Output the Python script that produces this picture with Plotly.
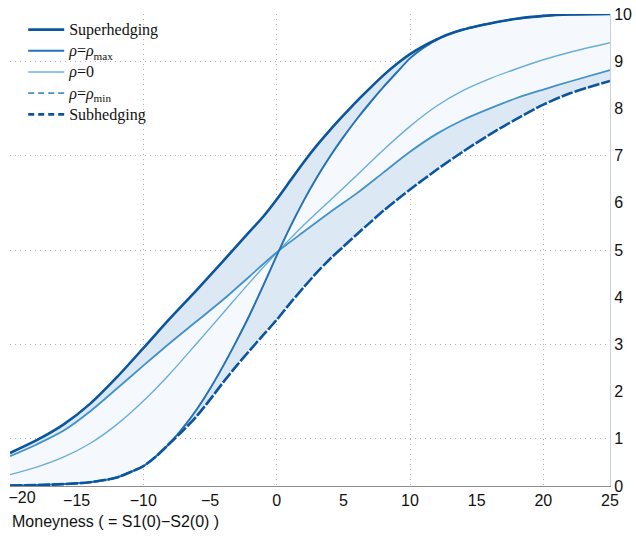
import plotly.graph_objects as go

# ---------------- data ----------------
x_super = [-20, -18, -16, -14, -12, -10, -8, -6, -4, -2, -1, 0, 1, 2, 3, 4, 5, 6, 7, 8, 9, 10,
           11, 12, 13, 14, 15, 16, 18, 20, 22, 25]
y_super = [0.70, 0.97, 1.30, 1.74, 2.30, 2.92, 3.55, 4.15, 4.77, 5.40, 5.71, 6.07, 6.46, 6.85,
           7.21, 7.54, 7.85, 8.15, 8.43, 8.70, 8.94, 9.15, 9.32, 9.46, 9.58, 9.67, 9.74, 9.80,
           9.90, 9.96, 9.99, 10.0]

x_rmax = [-20, -18, -16, -14, -12, -11, -10, -9, -8, -7, -6, -5, -4, -3, -2, -1, 0, 1, 2, 3,
          4, 5, 6, 7, 8, 9, 10, 11, 12, 13, 14, 15, 16, 18, 20, 22, 25]
y_rmax = [0.01, 0.02, 0.04, 0.08, 0.18, 0.29, 0.42, 0.64, 0.91, 1.24, 1.62, 2.06, 2.55, 3.08,
          3.64, 4.25, 4.88, 5.48, 6.03, 6.53, 6.98, 7.39, 7.77, 8.12, 8.45, 8.76, 9.06, 9.28,
          9.46, 9.58, 9.67, 9.74, 9.80, 9.90, 9.96, 9.99, 10.0]

x_r0 = [-20, -18, -16, -14, -12, -10, -8, -6, -4, -2, 0, 2, 4, 6, 8, 10, 12, 14, 16, 18, 20, 22, 25]
y_r0 = [0.24, 0.40, 0.61, 0.90, 1.30, 1.80, 2.38, 3.02, 3.67, 4.32, 4.94, 5.52, 6.05, 6.58,
        7.12, 7.62, 8.05, 8.38, 8.63, 8.84, 9.03, 9.19, 9.39]

x_rmin = [-20, -18, -16, -14, -12, -10, -8, -6, -4, -2, 0, 2, 4, 6, 8, 10, 12, 14, 16, 18, 20, 22, 25]
y_rmin = [0.63, 0.88, 1.17, 1.58, 2.06, 2.55, 3.03, 3.49, 3.95, 4.45, 4.95, 5.38, 5.80, 6.20,
          6.64, 7.08, 7.46, 7.76, 8.00, 8.22, 8.40, 8.57, 8.81]

x_sub = [-20, -18, -16, -14, -12, -11, -10, -9, -8, -7, -6, -5, -4, -3, -2, -1, 0, 1, 2, 3, 4,
         5, 6, 7, 8, 9, 10, 12, 14, 16, 18, 20, 22, 25]
y_sub = [0.01, 0.02, 0.04, 0.08, 0.18, 0.29, 0.42, 0.64, 0.91, 1.18, 1.48, 1.83, 2.20, 2.55,
         2.88, 3.20, 3.52, 3.87, 4.20, 4.52, 4.81, 5.07, 5.33, 5.58, 5.83, 6.06, 6.28, 6.70,
         7.09, 7.45, 7.78, 8.08, 8.32, 8.58]

x_ticks = [-15, -10, -5, 0, 5, 10, 15, 20, 25]
x_ticktext = ["\u221215", "\u221210", "\u22125", "0", "5", "10", "15", "20", "25"]
x_edge_tick = [-20]
x_edge_ticktext = ["\u221220"]
y_ticks = [0, 1, 2, 3, 4, 5, 6, 7, 8, 9, 10]
x_grid = [-20, -10, 0, 10, 20]
y_grid = [1, 3, 5, 7, 9, 10]

# ---------------- styling ----------------
C_SUPER = "#0b559f"
C_RMAX = "#2471b6"
C_R0 = "#6aaed8"
C_RMIN = "#4292c8"
C_SUB = "#0b559f"
FILL_DARK = "#dce9f5"
FILL_LIGHT = "#f5f9fe"
SHAPE = dict(shape="spline", smoothing=0.8)

fig = go.Figure()

# band between hedging bounds
fig.add_trace(go.Scatter(x=x_sub, y=y_sub, mode="lines", line=dict(width=0, **SHAPE),
                         showlegend=False, hoverinfo="skip"))
fig.add_trace(go.Scatter(x=x_super, y=y_super, mode="lines", line=dict(width=0, **SHAPE),
                         fill="tonexty", fillcolor=FILL_DARK, showlegend=False, hoverinfo="skip"))
# band between correlation extremes
fig.add_trace(go.Scatter(x=x_rmin, y=y_rmin, mode="lines", line=dict(width=0, **SHAPE),
                         showlegend=False, hoverinfo="skip"))
fig.add_trace(go.Scatter(x=x_rmax, y=y_rmax, mode="lines", line=dict(width=0, **SHAPE),
                         fill="tonexty", fillcolor=FILL_LIGHT, showlegend=False, hoverinfo="skip"))

# visible lines (drawn in the plot)
fig.add_trace(go.Scatter(x=x_r0, y=y_r0, mode="lines", showlegend=False, hoverinfo="skip",
                         line=dict(color=C_R0, width=1.4, **SHAPE)))
fig.add_trace(go.Scatter(x=x_rmin, y=y_rmin, mode="lines", showlegend=False, hoverinfo="skip",
                         line=dict(color=C_RMIN, width=1.8, **SHAPE)))
fig.add_trace(go.Scatter(x=x_rmax, y=y_rmax, mode="lines", showlegend=False, hoverinfo="skip",
                         line=dict(color=C_RMAX, width=2, **SHAPE)))
fig.add_trace(go.Scatter(x=x_super, y=y_super, mode="lines", showlegend=False, hoverinfo="skip",
                         line=dict(color=C_SUPER, width=2.6, **SHAPE)))
fig.add_trace(go.Scatter(x=x_sub, y=y_sub, mode="lines", showlegend=False, hoverinfo="skip",
                         line=dict(color=C_SUB, width=2.6, dash="12px,2px", **SHAPE)))

# legend entries
LEG = '<span style="font-size:16px">{}</span>'
legend_items = [
    ("Superhedging", C_SUPER, 2.6, "solid"),
    ("<i>ρ</i>=<i>ρ</i><sub>max</sub>", C_RMAX, 2, "solid"),
    ("<i>ρ</i>=0", C_R0, 1.4, "solid"),
    ("<i>ρ</i>=<i>ρ</i><sub>min</sub>", C_RMIN, 1.8, "6px,4px"),
    ("Subhedging", C_SUB, 2.6, "6px,4px"),
]
for name, col, w, dash in legend_items:
    fig.add_trace(go.Scatter(x=[None], y=[None], mode="lines", name=LEG.format(name),
                             line=dict(color=col, width=w, dash=dash)))

# dummy traces for the overlay axes (grid and edge tick label)
fig.add_trace(go.Scatter(x=[None], y=[None], xaxis="x2", yaxis="y2", showlegend=False,
                         hoverinfo="skip"))
fig.add_trace(go.Scatter(x=[None], y=[None], xaxis="x3", yaxis="y", showlegend=False,
                         hoverinfo="skip"))

TICKFONT = dict(family="Liberation Sans, Arial, sans-serif", size=16, color="#111111")

fig.update_layout(
    width=636, height=537,
    margin=dict(l=10, r=26, t=14, b=51, autoexpand=False),
    paper_bgcolor="white", plot_bgcolor="white",
    xaxis=dict(range=[-20, 25], tickmode="array", tickvals=x_ticks, ticktext=x_ticktext,
               showgrid=False, zeroline=False, showline=True, linecolor="#8c8c8c",
               linewidth=1, ticks="", tickfont=TICKFONT, automargin=False),
    xaxis3=dict(range=[-20, 25], overlaying="x", anchor="y", side="bottom", tickmode="array",
                tickvals=x_edge_tick, ticktext=x_edge_ticktext, ticklabelshift=12,
                ticklabeloverflow="allow", showgrid=False, zeroline=False, showline=False,
                ticks="", tickfont=TICKFONT, automargin=False),
    yaxis=dict(range=[0, 10], side="right", tickmode="array", tickvals=y_ticks,
               showgrid=False, zeroline=False, showline=True, linecolor="#c9d3de",
               linewidth=1, ticks="", tickfont=TICKFONT, ticklabeloverflow="allow",
               automargin=False),
    xaxis2=dict(range=[-20, 25], overlaying="x", anchor="y2", tickmode="array",
                tickvals=x_grid, showgrid=True, gridcolor="#b3b3b3", griddash="1px,4px",
                gridwidth=1, showticklabels=False, zeroline=False, showline=False, ticks="",
                automargin=False),
    yaxis2=dict(range=[0, 10], overlaying="y", anchor="x2", tickmode="array",
                tickvals=y_grid, showgrid=True, gridcolor="#b3b3b3", griddash="1px,4px",
                gridwidth=1, showticklabels=False, zeroline=False, showline=False, ticks="",
                automargin=False),
    legend=dict(x=0.022, y=1.0, xanchor="left", yanchor="top",
                bgcolor="rgba(0,0,0,0)", borderwidth=0,
                font=dict(family="Liberation Serif, DejaVu Serif, serif", size=14, color="#111111"),
                traceorder="normal", itemwidth=36),
    annotations=[dict(text="Moneyness ( = S1(0)\u2212S2(0) )", xref="paper", yref="paper",
                      x=0, y=-0.075, xanchor="left", yanchor="middle", showarrow=False,
                      font=dict(family="Liberation Sans, Arial, sans-serif", size=16,
                                color="#111111"))],
    showlegend=True,
)

fig.write_html("out.html")
